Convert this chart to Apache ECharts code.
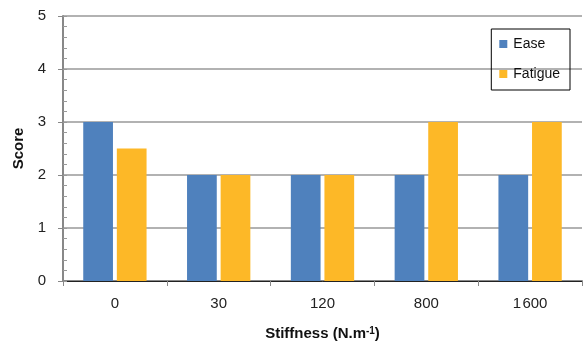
<!DOCTYPE html>
<html><head><meta charset="utf-8">
<script src="https://cdn.jsdelivr.net/npm/echarts@6/dist/echarts.min.js"></script>
<style>html,body{margin:0;padding:0;background:#fff}#c{width:586px;height:343px}</style>
</head><body><div id="c"></div>
<script>
const categories = ['0', '30', '120', '800', '1\u200A600'];
const easeValues = [3, 2, 2, 2, 2];
const fatigueValues = [2.5, 2, 2, 3, 3];
const yTicks = [0, 1, 2, 3, 4, 5];

const chart = echarts.init(document.getElementById('c'), null, {renderer: 'canvas'});
const font = 'Liberation Sans, Arial, sans-serif';
chart.setOption({
  animation: false,
  backgroundColor: '#fff',
  textStyle: {fontFamily: font},
  grid: {left: 63, right: 4, top: 16, bottom: 62, containLabel: false, outerBoundsMode: 'none'},
  legend: {
    orient: 'vertical', right: 16, top: 29,
    data: ['Ease', 'Fatigue'],
    itemWidth: 8, itemHeight: 8, itemGap: 16,
    icon: 'rect',
    borderColor: '#000', borderWidth: 1,
    padding: [8, 10, 9, 8],
    textStyle: {fontSize: 14, color: '#111', fontFamily: font, padding: [0, 0, 0, 1]}
  },
  xAxis: [{
    type: 'category', data: categories,
    axisLine: {lineStyle: {color: '#888', width: 2}},
    axisTick: {show: true, alignWithLabel: false, length: 5, lineStyle: {color: '#888'}},
    axisLabel: {fontSize: 15, color: '#222', margin: 15},
    name: '{b|Stiffness (N.m}{s|-1}{b|)}',
    nameLocation: 'middle', nameGap: 45,
    nameTextStyle: {rich: {
      b: {fontSize: 15, fontWeight: 'bold', color: '#111', fontFamily: font},
      s: {fontSize: 10, fontWeight: 'bold', color: '#111', verticalAlign: 'top', padding: [0, 0, 6, 0], fontFamily: font}
    }}
  }, {
    type: 'category', data: categories, position: 'top',
    axisLine: {lineStyle: {color: '#222', width: 1}},
    axisTick: {show: false}, axisLabel: {show: false}
  }],
  yAxis: [{
    type: 'value', min: yTicks[0], max: yTicks[yTicks.length - 1], interval: 1,
    axisLine: {show: true, lineStyle: {color: '#888', width: 2}},
    axisTick: {show: true, length: 5, lineStyle: {color: '#888'}},
    axisLabel: {fontSize: 15, color: '#222', margin: 17},
    splitLine: {lineStyle: {color: '#999', width: 1.5}},
    name: 'Score', nameLocation: 'middle', nameGap: 37,
    nameTextStyle: {fontSize: 15, fontWeight: 'bold', color: '#111'}
  }, {
    type: 'value', min: 0, max: 5, interval: 0.2, position: 'left',
    axisLine: {show: false},
    axisTick: {show: true, inside: true, length: 4, lineStyle: {color: '#999'}},
    axisLabel: {show: false}, splitLine: {show: false}
  }],
  series: [{
    name: 'Ease', type: 'bar', data: easeValues,
    itemStyle: {color: '#4F81BD'},
    barGap: '13%', barCategoryGap: '39%'
  }, {
    name: 'Fatigue', type: 'bar', data: fatigueValues,
    itemStyle: {color: '#FDB827'},
    barGap: '13%', barCategoryGap: '39%'
  }]
});
</script></body></html>
